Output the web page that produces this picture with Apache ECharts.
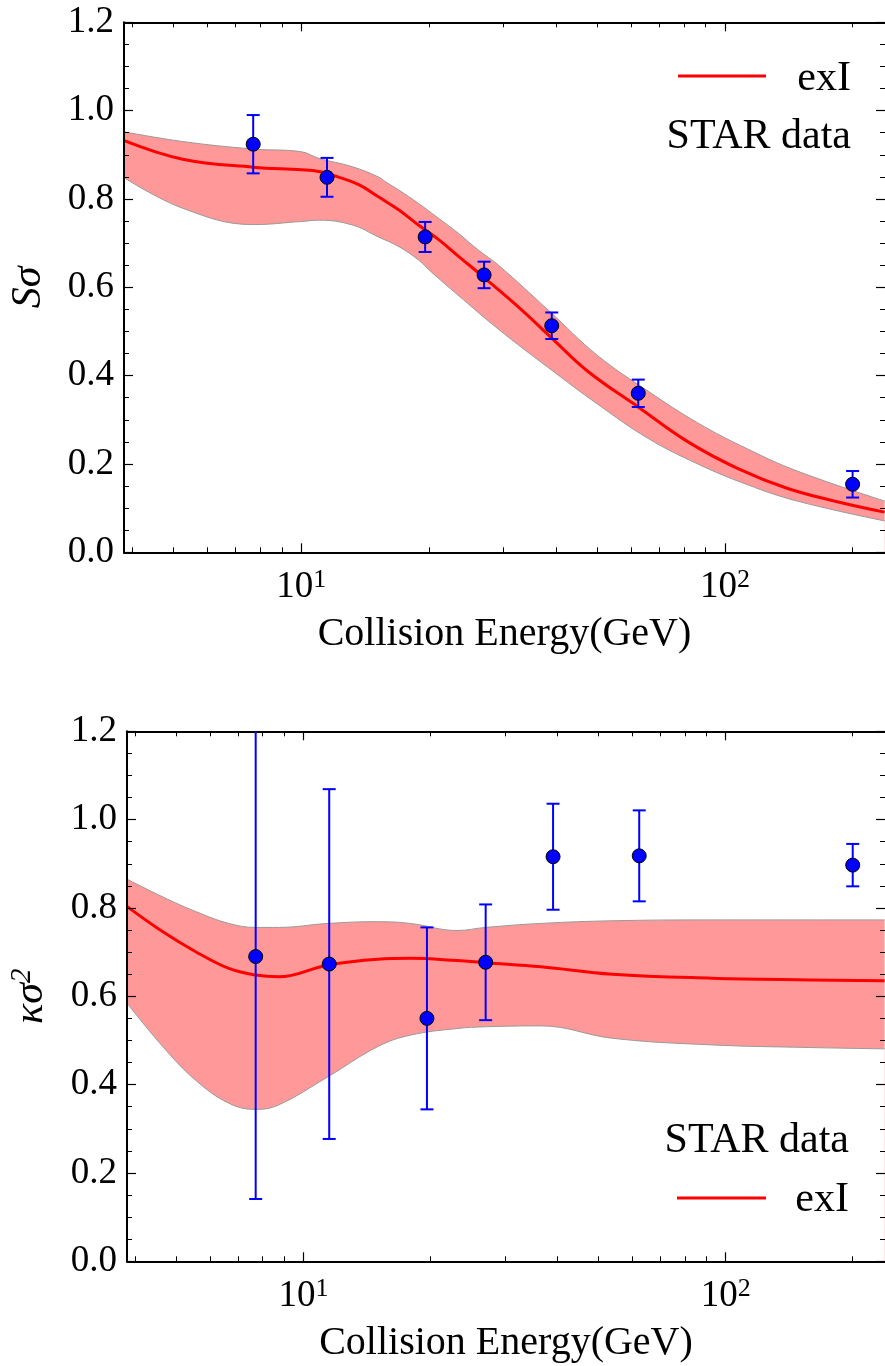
<!DOCTYPE html>
<html>
<head>
<meta charset="utf-8">
<script src="https://cdn.jsdelivr.net/npm/echarts@6/dist/echarts.min.js"></script>
<style>
html,body{margin:0;padding:0;background:#fff;}
#chart{width:885px;height:1366px;}
</style>
</head>
<body>
<div id="chart"></div>
<script>
// ---- data ----
const energies = [7.7, 11.5, 19.6, 27, 39, 62.4, 200];
const sSigma = [0.924, 0.849, 0.714, 0.628, 0.513, 0.360, 0.154];
const sSigmaErr = [0.066, 0.044, 0.034, 0.030, 0.030, 0.031, 0.030];
const kSigma2 = [0.690, 0.673, 0.550, 0.677, 0.916, 0.918, 0.897];
const kSigma2Err = [0.549, 0.396, 0.206, 0.131, 0.120, 0.103, 0.048];

const topCurveE = [3.82, 5.25, 7.7, 10, 11.0, 12.2, 13.7, 15.2, 17.0, 18.9, 21.1, 23.5, 27, 33.1, 39, 47.4, 62.6, 81.8, 107, 140, 184, 238];
const topCurve  = [0.932, 0.890, 0.872, 0.866, 0.862, 0.850, 0.832, 0.805, 0.775, 0.741, 0.708, 0.670, 0.622, 0.549, 0.485, 0.410, 0.328, 0.250, 0.190, 0.145, 0.1146, 0.091];
const topHiE    = [3.82, 5.25, 7.7, 10, 11.0, 13.2, 15.2, 15.8, 17.0, 18.9, 21.1, 23.5, 26.2, 29.2, 38.3, 50.1, 65.8, 86.2, 113, 148, 238];
const topBandHi = [0.952, 0.930, 0.913, 0.907, 0.892, 0.873, 0.850, 0.839, 0.820, 0.790, 0.756, 0.722, 0.684, 0.650, 0.548, 0.445, 0.365, 0.293, 0.234, 0.184, 0.116];
const topLoE    = [3.82, 5.25, 7.7, 10, 11.0, 13.2, 15.2, 17.0, 18.9, 20.3, 21.1, 22.3, 29.2, 38.3, 50.1, 65.8, 86.2, 113, 148, 238];
const topBandLo = [0.848, 0.779, 0.742, 0.749, 0.752, 0.741, 0.714, 0.692, 0.662, 0.634, 0.620, 0.600, 0.505, 0.418, 0.335, 0.258, 0.200, 0.153, 0.116, 0.071];

const botCurveE = [3.82, 4.64, 5.55, 6.65, 7.7, 8.72, 11.43, 14.98, 17.9, 23.1, 27, 36.5, 53.9, 92.6, 159, 238];
const botCurve  = [0.803, 0.746, 0.701, 0.663, 0.648, 0.644, 0.671, 0.684, 0.686, 0.681, 0.676, 0.667, 0.650, 0.641, 0.637, 0.635];
const botHiE    = botCurveE;
const botBandHi = [0.865, 0.825, 0.792, 0.765, 0.756, 0.756, 0.765, 0.769, 0.765, 0.749, 0.756, 0.765, 0.771, 0.773, 0.773, 0.773];
const botLoE    = botCurveE;
const botBandLo = [0.584, 0.486, 0.410, 0.358, 0.344, 0.354, 0.418, 0.486, 0.512, 0.527, 0.531, 0.533, 0.505, 0.490, 0.484, 0.481];

const xMajorTicks = [10, 100];
const xMinorTicks = [4, 5, 6, 7, 8, 9, 20, 30, 40, 50, 60, 70, 80, 90, 200];
const yTicks = { min: 0, max: 1.2, interval: 0.2 };
const xRange = { min: 3.816, max: 238.5 };

// ---- styling ----
const FONT = '"Liberation Serif", "DejaVu Serif", serif';
const BLUE = '#0000ff';
const RED = '#ff0000';
const BAND = '#ff9999';
const EDGE = '#999999';

const grids = [
  { left: 123.5, top: 22.3, width: 765, height: 530 },
  { left: 123.5, top: 731.3, width: 765, height: 530 }
];

function zip(a, b) { return a.map((v, i) => [v, b[i]]); }

function xAxesFor(gi) {
  const base = { type: 'log', logBase: 10, gridIndex: gi, min: xRange.min, max: xRange.max, splitLine: { show: false }, z: 4 };
  return [
    Object.assign({}, base, {
      position: 'bottom',
      axisLine: { show: true, lineStyle: { color: '#000', width: 2 } },
      axisTick: { show: true, inside: true, length: 9, customValues: xMajorTicks, lineStyle: { color: '#000', width: 1.2 } },
      axisLabel: {
        show: true, customValues: xMajorTicks, margin: 15,
        formatter: v => '{b|10}{s|' + Math.round(Math.log10(v)) + '}',
        rich: {
          b: { fontFamily: FONT, fontSize: 37, color: '#000' },
          s: { fontFamily: FONT, fontSize: 26, color: '#000', verticalAlign: 'top', padding: [0, 0, 14, 0] }
        }
      },
      name: 'Collision Energy(GeV)', nameLocation: 'middle', nameGap: 62,
      nameTextStyle: { fontFamily: FONT, fontSize: 40, color: '#000' }
    }),
    Object.assign({}, base, {
      position: 'bottom',
      axisLine: { show: false },
      axisTick: { show: true, inside: true, length: 5, customValues: xMinorTicks, lineStyle: { color: '#000', width: 1 } },
      axisLabel: { show: false }
    }),
    Object.assign({}, base, {
      position: 'top',
      axisLine: { show: true, lineStyle: { color: '#000', width: 2 } },
      axisTick: { show: true, inside: true, length: 9, customValues: xMajorTicks, lineStyle: { color: '#000', width: 1.2 } },
      axisLabel: { show: false }
    }),
    Object.assign({}, base, {
      position: 'top',
      axisLine: { show: false },
      axisTick: { show: true, inside: true, length: 5, customValues: xMinorTicks, lineStyle: { color: '#000', width: 1 } },
      axisLabel: { show: false }
    })
  ];
}

function yAxesFor(gi, nameRich) {
  const base = { type: 'value', gridIndex: gi, min: yTicks.min, max: yTicks.max, interval: yTicks.interval, splitLine: { show: false }, z: 4 };
  return [
    Object.assign({}, base, {
      position: 'left',
      axisLine: { show: true, lineStyle: { color: '#000', width: 2 } },
      axisTick: { show: true, inside: true, length: 9, lineStyle: { color: '#000', width: 1.2 } },
      minorTick: { show: true, splitNumber: 4, length: 5, lineStyle: { color: '#000', width: 1 } },
      axisLabel: { show: true, margin: 10, formatter: v => v.toFixed(1), fontFamily: FONT, fontSize: 37, color: '#000' },
      name: nameRich.text, nameLocation: 'middle', nameGap: 74,
      nameTextStyle: { fontFamily: FONT, fontSize: 42, color: '#000', fontStyle: 'italic', rich: nameRich.rich }
    }),
    Object.assign({}, base, {
      position: 'right',
      axisLine: { show: false },
      axisTick: { show: true, inside: true, length: 9, lineStyle: { color: '#000', width: 1.2 } },
      minorTick: { show: true, splitNumber: 4, length: 5, lineStyle: { color: '#000', width: 1 } },
      axisLabel: { show: false }
    })
  ];
}

function errorBarSeries(xi, yi, vals, errs) {
  return {
    type: 'custom', xAxisIndex: xi, yAxisIndex: yi, z: 5,
    data: energies.map((e, i) => [e, vals[i], errs[i]]),
    renderItem: function (params, api) {
      const x = api.value(0), y = api.value(1), e = api.value(2);
      const cs = params.coordSys;
      const pt = api.coord([x, y + e]);
      const pb = api.coord([x, y - e]);
      let topY = pt[1], botY = pb[1];
      const topClip = topY < cs.y, botClip = botY > cs.y + cs.height;
      if (topClip) topY = cs.y;
      if (botClip) botY = cs.y + cs.height;
      const cap = 6.5;
      const st = { stroke: BLUE, lineWidth: 2 };
      const children = [{ type: 'line', shape: { x1: pt[0], y1: topY, x2: pt[0], y2: botY }, style: st }];
      if (!topClip) children.push({ type: 'line', shape: { x1: pt[0] - cap, y1: topY, x2: pt[0] + cap, y2: topY }, style: st });
      if (!botClip) children.push({ type: 'line', shape: { x1: pt[0] - cap, y1: botY, x2: pt[0] + cap, y2: botY }, style: st });
      return { type: 'group', children: children };
    }
  };
}

// band: upper edge filled pink down to the axis, lower edge filled white down to the axis (drawn below the axes)
function panelSeries(xi, yi, hiE, hi, loE, lo, curveE, curve, vals, errs) {
  return [
    {
      type: 'line', xAxisIndex: xi, yAxisIndex: yi, smooth: 0.4, symbol: 'none', z: -3,
      data: zip(hiE, hi), lineStyle: { color: EDGE, width: 1 },
      areaStyle: { color: BAND, opacity: 1, origin: 'start' }, silent: true
    },
    {
      type: 'line', xAxisIndex: xi, yAxisIndex: yi, smooth: 0.4, symbol: 'none', z: -2,
      data: zip(loE, lo), lineStyle: { color: EDGE, width: 1 },
      areaStyle: { color: '#ffffff', opacity: 1, origin: 'start' }, silent: true
    },
    {
      type: 'line', xAxisIndex: xi, yAxisIndex: yi, smooth: 0.4, symbol: 'none', z: 3,
      data: zip(curveE, curve), lineStyle: { color: RED, width: 3 }, silent: true
    },
    errorBarSeries(xi, yi, vals, errs),
    {
      type: 'scatter', xAxisIndex: xi, yAxisIndex: yi, z: 6, symbol: 'circle', symbolSize: 14,
      data: zip(energies, vals), itemStyle: { color: BLUE, borderColor: '#000', borderWidth: 1, opacity: 1 }
    }
  ];
}

const legendText = { fontFamily: FONT, fontSize: 42, fill: '#000' };

const option = {
  animation: false,
  backgroundColor: '#fff',
  grid: grids,
  xAxis: xAxesFor(0).concat(xAxesFor(1)),
  yAxis: yAxesFor(0, { text: 'Sσ', rich: {} }).concat(
         yAxesFor(1, { text: '{k|κσ}{s|2}', rich: {
           k: { fontFamily: FONT, fontSize: 42, fontStyle: 'italic', color: '#000' },
           s: { fontFamily: FONT, fontSize: 29, color: '#000', verticalAlign: 'top', padding: [0, 0, 16, 0] }
         } })),
  series: [].concat(
    panelSeries(0, 0, topHiE, topBandHi, topLoE, topBandLo, topCurveE, topCurve, sSigma, sSigmaErr),
    panelSeries(4, 2, botHiE, botBandHi, botLoE, botBandLo, botCurveE, botCurve, kSigma2, kSigma2Err)
  ),
  graphic: [
    { type: 'line', shape: { x1: 678, y1: 76, x2: 766, y2: 76 }, style: { stroke: RED, lineWidth: 3 }, z: 10 },
    { type: 'text', x: 851, y: 79, style: Object.assign({ text: 'exI', align: 'right', verticalAlign: 'middle' }, legendText), z: 10 },
    { type: 'text', x: 851, y: 137, style: Object.assign({ text: 'STAR data', align: 'right', verticalAlign: 'middle' }, legendText), z: 10 },
    { type: 'text', x: 849, y: 1141, style: Object.assign({ text: 'STAR data', align: 'right', verticalAlign: 'middle' }, legendText), z: 10 },
    { type: 'line', shape: { x1: 677, y1: 1198, x2: 766, y2: 1198 }, style: { stroke: RED, lineWidth: 3 }, z: 10 },
    { type: 'text', x: 849, y: 1200, style: Object.assign({ text: 'exI', align: 'right', verticalAlign: 'middle' }, legendText), z: 10 }
  ]
};

const chart = echarts.init(document.getElementById('chart'), null, { renderer: 'canvas' });
chart.setOption(option);
</script>
</body>
</html>
